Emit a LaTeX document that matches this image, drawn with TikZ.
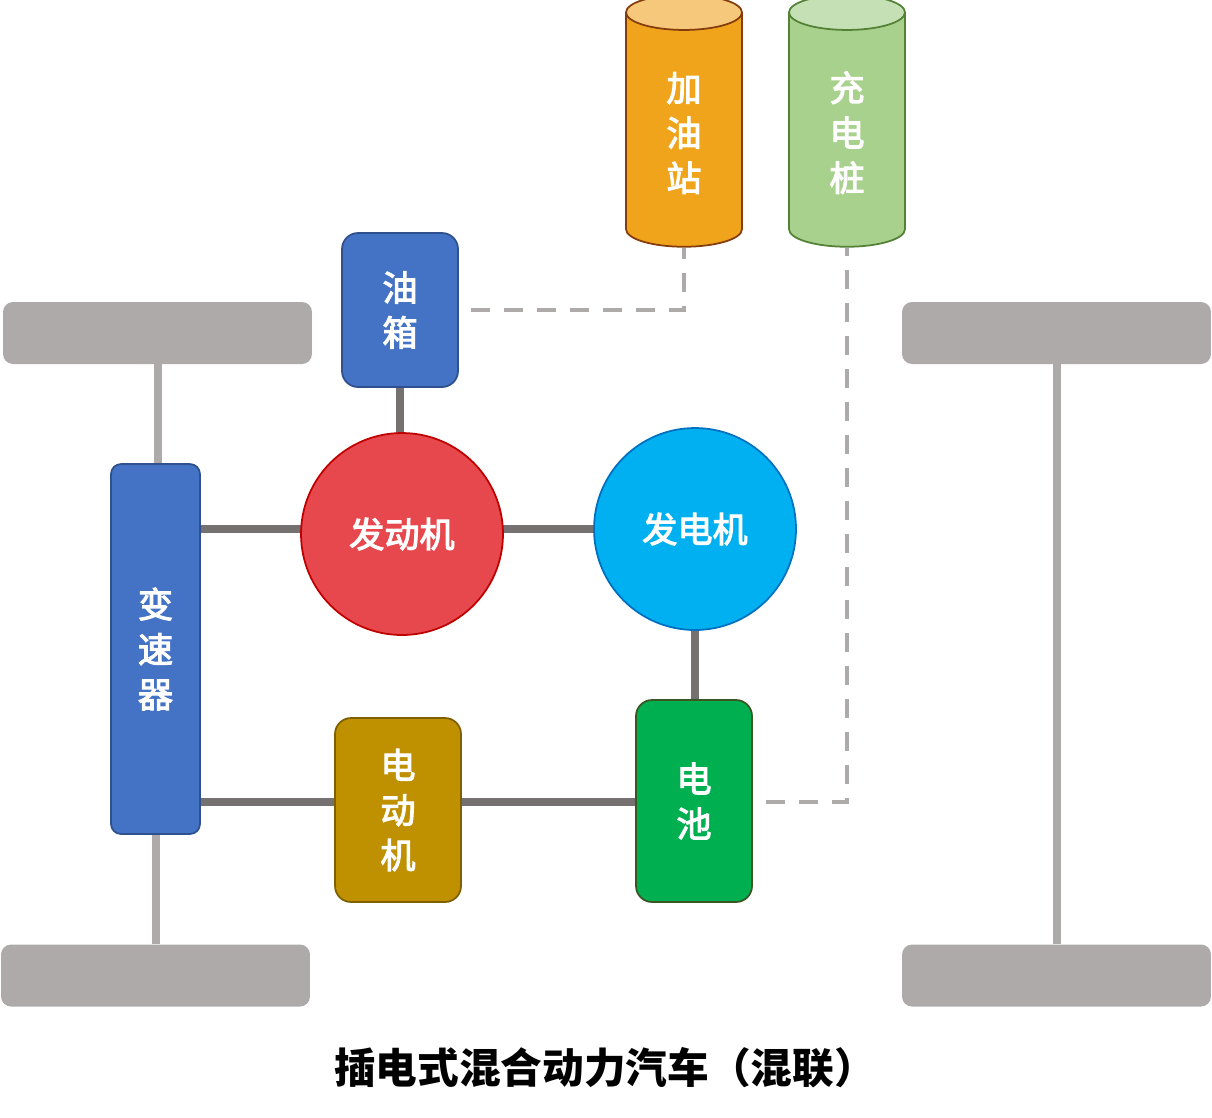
\documentclass[tikz,border=0pt]{standalone}
\usepackage{fontspec}
\setmainfont{Noto Sans CJK SC}
\newfontfamily\partfont{Noto Sans CJK SC}[FakeBold=3]
\usetikzlibrary{shapes.geometric,backgrounds}
\definecolor{wheelgray}{HTML}{AEAAAA}
\definecolor{linkgray}{HTML}{767171}
\definecolor{boxblue}{HTML}{4472C4}
\definecolor{boxblueline}{HTML}{2F528F}
\definecolor{enginered}{HTML}{E6484D}
\definecolor{engineline}{HTML}{C00000}
\definecolor{genblue}{HTML}{00B0F0}
\definecolor{genline}{HTML}{0070C0}
\definecolor{motorgold}{HTML}{BF9000}
\definecolor{motorline}{HTML}{7F6000}
\definecolor{battgreen}{HTML}{00B050}
\definecolor{battline}{HTML}{385723}
\definecolor{gasorange}{HTML}{EFA41B}
\definecolor{gastop}{HTML}{F6C87B}
\definecolor{gasline}{HTML}{843C0C}
\definecolor{pilegreen}{HTML}{A9D18E}
\definecolor{piletop}{HTML}{C5E0B4}
\definecolor{pileline}{HTML}{538135}

\begin{document}
\begin{tikzpicture}[x=0.02cm,y=-0.02cm,
  wheel/.style={fill=wheelgray,rounded corners=0.2cm,minimum width=6.18cm,minimum height=1.24cm},
  part/.style={draw,line width=1pt,rounded corners=0.32cm,inner sep=0pt,text=white,align=center,font=\fontsize{20}{25.6}\selectfont\partfont},
  wheelpart/.style={part,circle,minimum size=4.04cm},
  tank/.style={part,cylinder,shape border rotate=90,aspect=1,rounded corners=0pt,minimum width=2.32cm,minimum height=5.04cm,cylinder uses custom fill},
  link/.style={linkgray,line width=0.16cm},
  axle/.style={wheelgray,line width=0.16cm},
  feed/.style={wheelgray,line width=0.08cm,dash pattern=on 0.38cm off 0.28cm}]
\useasboundingbox (0,0) rectangle (1212,1117);
% wheels
\draw node[wheel] (wtl) at (157.5,333) {};
\draw node[wheel] (wbl) at (155.5,975.5) {};
\draw node[wheel] (wtr) at (1056.5,333) {};
\draw node[wheel] (wbr) at (1056.5,975.5) {};
% power parts
\draw node[part,fill=boxblue,draw=boxblueline,rounded corners=0.2cm,minimum width=1.78cm,minimum height=7.4cm] (trans) at (155.5,649) {变\\速\\器};
\draw node[part,fill=boxblue,draw=boxblueline,minimum width=2.32cm,minimum height=3.08cm] (oil) at (400,310) {油\\箱};
\draw node[wheelpart,fill=enginered,draw=engineline] (eng) at (402,534) {发动机};
\draw node[wheelpart,fill=genblue,draw=genline] (gen) at (695,529) {发电机};
\draw node[part,fill=motorgold,draw=motorline,minimum width=2.52cm,minimum height=3.68cm] (motor) at (398,810) {电\\动\\机};
\draw node[part,fill=battgreen,draw=battline,minimum width=2.32cm,minimum height=4.04cm] (batt) at (694,801) {电\\池};
\draw node[tank,cylinder body fill=gasorange,cylinder end fill=gastop,draw=gasline] (gas) at (684,130) {\rule{0pt}{20pt}加\\油\\站};
\draw node[tank,cylinder body fill=pilegreen,cylinder end fill=piletop,draw=pileline] (pile) at (847,130) {\rule{0pt}{20pt}充\\电\\桩};
\draw node[font=\fontsize{23.7}{30}\selectfont\bfseries] (title) at (605,1068) {插电式混合动力汽车（混联）};
\begin{pgfonlayer}{background}
\draw[axle] (wtl) -- (wtl |- trans);
\draw[axle] (wbl) -- (wbl |- trans);
\draw[axle] (wtr) -- (wbr);
\draw[link] (oil) -- (oil |- eng);
\draw[link] (trans |- gen) -- (gen);
\draw[link] (gen) -- (gen |- batt);
\draw[link] (trans |- 0,802) -- (batt |- 0,802);
\draw[feed] ([xshift=0.24cm]oil.east) -- (oil.east -| gas) -- (gas);
\draw[feed] ([xshift=0.26cm]batt.east |- 0,802) -- (pile |- 0,802) -- (pile);
\end{pgfonlayer}
\end{tikzpicture}
\end{document}
